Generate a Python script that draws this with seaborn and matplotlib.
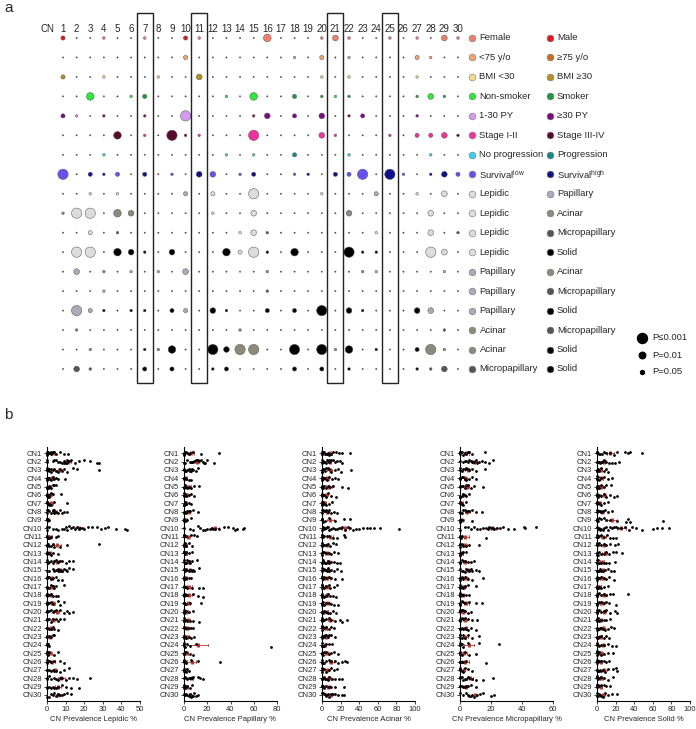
import numpy as np
import pandas as pd
import matplotlib
matplotlib.use('Agg')
import matplotlib.pyplot as plt
import seaborn as sns
from matplotlib.patches import Rectangle

sns.set_style('white')
plt.rcParams['font.family'] = ['Liberation Sans', 'DejaVu Sans']
plt.rcParams['mathtext.fontset'] = 'custom'
plt.rcParams['mathtext.rm'] = 'Liberation Sans'

# ---- panel a data ----
cn_numbers = list(range(1, 31))
left_labels = ['Female', '<75 y/o', 'BMI <30', 'Non-smoker', '1-30 PY', 'Stage I-II',
               'No progression', 'Survival$^{\\mathrm{low}}$', 'Lepidic', 'Lepidic', 'Lepidic',
               'Lepidic', 'Papillary', 'Papillary', 'Papillary', 'Acinar', 'Acinar', 'Micropapillary']
right_labels = ['Male', '≥75 y/o', 'BMI ≥30', 'Smoker', '≥30 PY', 'Stage III-IV',
                'Progression', 'Survival$^{\\mathrm{high}}$', 'Papillary', 'Acinar', 'Micropapillary',
                'Solid', 'Acinar', 'Micropapillary', 'Solid', 'Micropapillary', 'Solid', 'Solid']
left_colors = ['#f07e6e', '#f4a468', '#f6d98c', '#2ee83c', '#d39af0', '#f0329c',
               '#3ad2f0', '#6652f0', '#dcdcdc', '#dcdcdc', '#dcdcdc', '#dcdcdc',
               '#aaaab8', '#aaaab8', '#aaaab8', '#8c8a7a', '#8c8a7a', '#555555']
right_colors = ['#e8141e', '#d2691e', '#b8901e', '#1e9a3e', '#7e0a82', '#560a2c',
                '#138a8a', '#10108a', '#aaaab8', '#8c8a7a', '#555555', '#000000',
                '#8c8a7a', '#555555', '#000000', '#555555', '#000000', '#000000']
# +n: left group enriched, -n: right group enriched, magnitude = significance level, 0 = n.s.
enrichment = [
    [-2, 0, 0, 1, 0, 0, 1, 0, 0, -2, 1, 0, 0, 0, 0, 4, 0, 0, 0, 1, 3, 1, 0, 0, 1, 0, 1, 0, 3, 1],
    [0, 0, 0, 0, 0, 0, 0, 0, 0, 2, 0, 0, 0, 0, 0, 0, 0, 1, 0, 2, 0, 1, 0, 0, 0, 0, 2, 1, 0, 0],
    [-2, 0, 0, 1, 0, 0, 0, 1, 0, 0, -3, 0, 0, 0, 0, 0, 0, 0, 0, 1, 0, 1, 0, 0, 0, 0, 1, 0, 0, 0],
    [0, 0, 4, 0, 0, 1, -2, 0, 0, 0, 0, 0, 1, 0, 4, 0, 0, -2, 0, -1, 1, -1, 0, 0, 0, 0, -1, 3, -1, 0],
    [-2, 1, 0, -1, 0, 0, -1, 0, 0, 5, 0, 0, 0, 0, -1, -3, 0, -2, 0, -3, 0, -1, -2, 0, 0, 0, -1, 0, 0, 0],
    [0, 0, 0, 0, -4, 0, 1, 0, -5, -1, 1, 0, 0, 0, 5, 0, 0, 0, 0, 3, 1, 0, 0, 0, 1, 0, 2, 2, 3, -1],
    [0, 0, 0, 1, 0, 0, 0, 0, 0, 0, 0, 0, 1, 0, 1, 0, 0, -2, 0, 0, 0, 1, 0, 0, 0, 0, 0, 1, 0, 0],
    [5, 0, -2, -1, 2, 0, -2, 0, 1, 0, -3, 3, 0, 1, -2, 0, 0, 1, -1, 0, -2, 2, 5, 0, -5, 1, 0, -1, -3, 2],
    [0, 0, 1, 0, 1, 0, 0, 0, 0, -2, 0, 2, 0, 0, 5, 0, 0, 0, 0, 1, 0, 0, 0, -2, 0, 0, 1, 0, 3, 0],
    [-1, 5, 5, 0, -4, -3, 0, 0, 0, 0, 0, 1, 0, 0, 3, 0, 0, 0, 0, 0, 0, -3, 0, 0, 0, 0, 0, 3, 0, 0],
    [0, 0, 2, 0, -1, 0, 0, 0, 0, 0, 0, 0, 0, 1, 3, -1, 0, 0, 0, 0, 0, 0, 0, 1, 0, 0, 0, 3, 0, -1],
    [0, 5, 5, 0, -4, -3, -1, 0, -3, 0, 0, 0, -4, 2, 5, -1, 0, -4, 0, 0, 0, -5, -1, -1, 0, 0, 0, 5, 3, 0],
    [0, 3, 0, -1, 0, 1, 0, 1, 0, 3, 0, 0, 0, 0, 0, -1, 0, 0, 0, 0, 0, 0, -1, 1, 0, 0, 0, 0, 1, 0],
    [0, 0, 0, 1, 0, 0, 0, 0, 0, 0, 0, 0, 0, 0, 0, -1, 0, 0, 0, 0, 0, 0, 0, 0, 0, 0, 0, 0, 0, 0],
    [0, 5, 2, -1, 0, -1, -1, 0, -2, 2, 0, -3, -1, 0, 0, -2, 0, -2, 0, -5, 0, -3, -1, 0, 0, 0, -3, 3, 0, 0],
    [0, 1, 0, 0, 0, 0, 0, 0, 0, 0, 0, 0, 0, 1, 0, 0, 0, 0, 0, 0, 0, 0, 0, 0, 0, 0, 0, 0, -1, 0],
    [0, 0, 1, 0, 0, 0, -1, 1, -4, 0, 0, -5, -3, 5, 5, 0, 0, -5, 0, -5, 1, -4, 0, -1, 0, 0, -2, 5, 1, 0],
    [0, 3, 1, 0, 0, 0, -2, 0, -2, 0, 0, -1, -2, 0, 0, 0, 0, -2, 0, -2, 0, -1, 0, 0, 0, 0, -1, 1, 3, 0],
]
highlight_cns = [7, 11, 21, 25]
p_labels = ['P≤0.001', 'P=0.01', 'P=0.05']

# ---- panel b data (CN prevalence per sample, %) ----
cn_labels = ['CN%d' % i for i in cn_numbers]
lepidic_pct = [
    '0 0 0 0.5 1 1 1.5 2 2 3 4 5 7 9 11.5', '0 0 3 4 5 6 7 8 9 9 10 10 11 11 12 13 15 17 20 23 27 28',
    '0 0 0 0.5 1 1 2 2 3 4 5 6 7 8 9 11 14 16 28', '0 0 0 0.5 1 1 2 3 4 5 6 9.5', '0 0 0 0.5 1 1 2 3 4 5',
    '0 0 0 0.5 1 1 2 3 7.5', '0 0 0 0.5 1 1 2 4 11', '0 0 0.5 1 2 3 3 4 4 5 6 7 8 9 11', '0 0 0 0.2 0.5 1',
    '0 0 1 3 5 6 8 9 10 11 12 13 14 15 16 17 18 19 20 22 24 27 29 31 33 37 42 43', '0 0 0 0.5 1 2 5 6',
    '0 0 0 0.5 1 2 3 4 7 11 28', '0 0 0 0.5 1 2 3 6', '0 0 0.5 1 2 3 4 5 6 7 8 10 12 14',
    '0 1 3 4 5 6 6 7 7 8 8 9 10 11 12 14', '0 0 0 0.5 1 2 3 5 6 8', '0 0 0 1 2 3 4 5 9', '0 0 0 0.5 1 2 3 5 6',
    '0 0 0 1 2 3 6 7 9', '0 0 0 1 2 3 4 5 7 9 11 12 14', '0 0 0 1 2 3 5 6 7 9', '0 0 0 1 2 3 4 6',
    '0 0 0 1 2 3 4', '0 0 0 0.5 1', '0 0 0 0.5 1 4 6', '0 0 0 1 2 4 7 9', '0 0 1 2 3 4 5 7 9 12',
    '0 0 1 2 4 5 6 7 8 10 12 14 16 23', '0 0 1 2 3 4 5 6 8 10 13 17', '0 1 2 3 4 5 6 7 8 9 11 13']
papillary_pct = [
    '0 0 0 1 2 3 4 5 8 15 30', '0 1 3 5 6 7 8 9 10 11 12 13 15 16 17 18 20 26', '0 0 1 2 3 4 5 6 7 8 10 12',
    '0 0 0 1 2 4 6', '0 0 1 2 3 4 6 9 13', '0 0 0 1 2 4 6 9', '0 0 0 1 2 4 6', '0 0 1 2 3 4 5 8 12',
    '0 0 0 1 3 6', '0 5 8 12 14 16 18 20 22 24 25 27 30 34 38 42 44 46 51 52', '0 0 0 1 2 6 9 11',
    '0 0 0 1 2 4 7', '0 0 0 1 2 4 7', '0 0 1 2 3 4 5 7 11', '0 1 2 3 4 5 6 7 8 9 13', '0 0 0 1 2 4 6',
    '0 0 0 1 2 3 7 13 16', '0 0 0 1 2 3 8 12 16', '0 0 0 1 2 5 15', '0 0 0 1 2 4 8', '0 0 0 1 2 3 5 8 13',
    '0 0 0 1 2 4 6 8', '0 0 0 1 2 4 6 9', '0 0 0 1 3 5 10 75', '0 0 0 1 2 5 8', '0 0 0 1 2 6 12 31',
    '0 0 0 1 2 3 4', '0 1 2 3 4 5 6 7 8 12 14 16', '0 0 0 1 2 3 5 7', '0 1 2 3 4 5 6 7 8 9 10 12']
acinar_pct = [
    '0 0 0 1 2 3 4 5 6 8 10 12 15 18 22 30', '0 0 1 2 3 4 5 6 7 8 9 10 12 14 16 19 22',
    '0 0 0 1 2 3 4 6 8 10 14 17 20 31', '0 0 0 1 2 3 5 8 11 14 17', '0 0 0 1 2 4 6 9 12 22 28',
    '0 0 0 1 2 4 6 10 15', '0 0 0 1 2 4 7 11', '0 0 1 2 3 4 6 8 10 13 16', '0 0 0 1 3 8 14 24 30',
    '0 1 2 3 4 5 6 8 10 12 14 16 18 20 22 25 28 30 33 37 40 44 48 52 56 62 83',
    '0 0 0 1 2 5 8 12 16 24 25', '0 0 0 1 2 4 6 9 12 15', '0 0 0 1 2 4 7 10 13 17',
    '0 0 1 2 3 4 6 8 10 13 16 19', '0 0 1 2 3 4 5 6 8 10 13 16 20', '0 0 0 1 2 4 7 10 14 21',
    '0 0 0 1 2 4 7 9 13 16', '0 0 0 1 2 4 6 9 12 15', '0 0 0 1 2 4 7 10 13 17', '0 0 0 1 2 4 6 9 12 15',
    '0 0 0 1 2 4 7 10 14 19 21 27', '0 0 0 1 2 4 7 10 13', '0 0 1 2 3 4 6 8 10 14', '0 0 0 1 2 4 7 11',
    '0 0 0 1 2 4 7 10 13 17', '0 0 0 1 2 4 7 10 14 17 21 25 27', '0 0 0 1 2 4 7 10 13 16',
    '0 0 1 2 3 4 6 8 11 14 18 21', '0 0 0 1 2 4 7 10 14 24', '0 1 2 3 4 5 6 8 10 12 14 17 22 24']
micropapillary_pct = [
    '0 0 0 1 2 3 4 5 6 8 16', '0 2 3 4 5 6 7 8 9 10 11 12 14 16 19 21', '0 0 1 2 3 4 5 6 8 10 16',
    '0 0 0 1 2 3 4 6 8 10', '0 0 1 2 3 4 5 7 9 15', '0 0 0 1 2 3 4 6', '0 0 0 1 2 4',
    '0 0 1 2 3 4 5 6 8 10 14', '0 0 0 0.5 1 8',
    '0 3 5 7 9 11 13 15 17 18 19 20 21 22 24 26 28 31 35 41 42 49', '0 0 0 0.5 1 17',
    '0 0 0 1 2 4 6 12', '0 0 0 1 2 4', '0 0 0 1 2 3 5 7 9', '0 1 2 3 4 5 6 7 8 10 12',
    '0 0 0 1 2 3 5 8 15', '0 0 0 1 2 3 5 10', '0 0 0 1 2 4 6', '0 0 0 1 2 3 6 10 14', '0 0 0 1 2 3 5 7',
    '0 0 0 1 2 3 5 8 11', '0 0 1 2 3 4 5 7 10', '0 0 0 1 2 3 5 8 12', '0 0 0 1 2 5 12 25',
    '0 0 0 1 3 6 10', '0 0 0 1 2 4 17', '0 0 0 1 2 3 5 8', '0 0 1 2 3 4 5 6 8 10 15 21',
    '0 0 1 2 3 4 5 7 10', '0 2 4 5 6 7 8 9 11 13 15 20 22']
solid_pct = [
    '0 0 0 1 2 3 5 7 10 14 18 22 30 33 36 48', '0 0 1 2 3 4 5 6 8 10 13 16 19 24', '0 0 0 1 2 4 7 10 12',
    '0 0 0 1 2 4 7 12 16', '0 0 0 1 2 4 7 10 15', '0 0 0 1 2 4 7 10 14 18 21', '0 0 0 1 2 4 7 12',
    '0 0 1 2 3 4 6 9 12 16', '0 0 0 1 2 4 7 10 14 22 31 33 36 71',
    '0 1 2 3 4 6 8 10 12 14 16 18 20 23 26 30 34 38 42 48 60 64 70 77', '0 0 0 1 2 4 7 11 14 17 20',
    '0 0 0 1 2 4 7 10 14 19 23', '0 0 0 1 2 4 7 10 13 17 20 27', '0 0 0 1 2 4 7 10 13 19',
    '0 0 1 2 3 4 6 9 12 15 18', '0 0 0 1 2 4 7 10 13 18', '0 0 0 1 2 4 7 12', '0 0 0 1 2 4 7 10 14 17 33',
    '0 0 0 1 2 4 7 10 13 20', '0 0 0 1 2 4 7 10 14 19 22', '0 0 0 1 2 4 7 10 14', '0 0 1 2 3 4 6 9 12 15 18',
    '0 0 0 1 2 4 7 10 13', '0 0 0 1 2 4 7 12 16 20', '0 0 0 1 2 4 7 12 17', '0 0 0 1 2 4 7 10 13',
    '0 0 1 2 3 4 6 9 12 17 20 22', '0 0 0 1 2 4 7 12 17', '0 0 0 1 2 4 7 10 14', '0 0 1 2 3 4 6 9 12 16 21']
subtypes = ['Lepidic', 'Papillary', 'Acinar', 'Micropapillary', 'Solid']
subtype_data = [lepidic_pct, papillary_pct, acinar_pct, micropapillary_pct, solid_pct]
x_max = [50, 80, 100, 60, 100]
x_step = [10, 20, 20, 20, 20]

# ---- figure ----
W, H = 696, 729
fig = plt.figure(figsize=(W / 100, H / 100), dpi=100)


def px_axes(l, t, r, b):
    return fig.add_axes([l / W, 1 - b / H, (r - l) / W, (b - t) / H])


# panel a: dot matrix
col_w, row_h = 13.62, 19.47
ax = px_axes(40, 8, 696, 390)
records = []
for r, vals in enumerate(enrichment):
    for c, v in zip(cn_numbers, vals):
        if v > 0:
            col = left_colors[r]
        elif v < 0:
            col = right_colors[r]
        else:
            col = '#3c3c3c'
        records.append({'cn': c, 'row': r, 'level': abs(v), 'color': col})
grid = pd.DataFrame(records)
dot_sizes = {0: 0.9, 1: 3.5, 2: 9, 3: 17, 4: 30, 5: 55}
sns.scatterplot(data=grid, x='cn', y='row', hue='color',
                palette={c: c for c in grid['color'].unique()},
                size='level', sizes=dot_sizes, legend=False,
                edgecolor='#555555', linewidth=0.35, ax=ax)
ax.set_xlim(1 + (40 - 63) / col_w, 1 + (696 - 63) / col_w)
ax.set_ylim((390 - 38) / row_h, (8 - 38) / row_h)
ax.axis('off')

hdr_y = (29 - 38) / row_h
ax.text(1 + (47 - 63) / col_w, hdr_y, 'CN', ha='center', va='center', fontsize=7)
for c in cn_numbers:
    ax.text(c, hdr_y, str(c), ha='center', va='center', fontsize=7)
for c in highlight_cns:
    ax.add_patch(Rectangle((c - 0.59, -1.27), 1.18, 18.99, fill=False, lw=1.0, ec='#222222'))

lx1 = 1 + (472 - 63) / col_w
lx2 = 1 + (550 - 63) / col_w
for r in range(len(left_labels)):
    ax.scatter(lx1, r, s=24, c=left_colors[r], edgecolors='#777777', linewidths=0.4)
    ax.text(lx1 + 0.55, r, left_labels[r], va='center', fontsize=6.8)
    ax.scatter(lx2, r, s=24, c=right_colors[r], edgecolors='#777777', linewidths=0.4)
    ax.text(lx2 + 0.5, r, right_labels[r], va='center', fontsize=6.8)

px_ = 1 + (642 - 63) / col_w
for lab, s, yy in zip(p_labels, [52, 22, 8], [338, 355, 372]):
    ry = (yy - 38) / row_h
    ax.scatter(px_, ry, s=s, c='black')
    ax.text(px_ + 0.75, ry, lab, va='center', fontsize=6.8)

# panel b: strip plots
lefts = [47, 184, 322, 460, 597]
for i, (name, vals) in enumerate(zip(subtypes, subtype_data)):
    rows = []
    for cn, s in zip(cn_labels, vals):
        for v in s.split():
            rows.append({'cn': cn, 'value': float(v)})
    df = pd.DataFrame(rows)
    axb = px_axes(lefts[i], 446.7, lefts[i] + 93, 701)
    sns.pointplot(data=df, x='value', y='cn', order=cn_labels, orient='h',
                  estimator='mean', errorbar='se', color='#b8322a', marker='|',
                  markersize=3.5, linestyle='none', capsize=0.3,
                  err_kws={'linewidth': 0.6}, ax=axb)
    sns.stripplot(data=df, x='value', y='cn', order=cn_labels, orient='h',
                  color='black', size=2, jitter=0.22, ax=axb, zorder=3, clip_on=False)
    axb.set_xlim(0, x_max[i])
    axb.set_ylim(29.73, -0.79)
    axb.set_xticks(np.arange(0, x_max[i] + 1, x_step[i]))
    axb.set_ylabel('')
    axb.set_xlabel('CN Prevalence %s %%' % name, fontsize=5.5, labelpad=2)
    axb.tick_params(labelsize=5.5, length=2.5, width=0.6, pad=1, left=True, bottom=True)
    sns.despine(ax=axb)
    for sp in ['left', 'bottom']:
        axb.spines[sp].set_linewidth(0.8)
        axb.spines[sp].set_color('black')

fig.text(4 / W, 1 - 8 / H, 'a', fontsize=11, va='center')
fig.text(4 / W, 1 - 415 / H, 'b', fontsize=11, va='center')

fig.savefig('out.png', dpi=100)
